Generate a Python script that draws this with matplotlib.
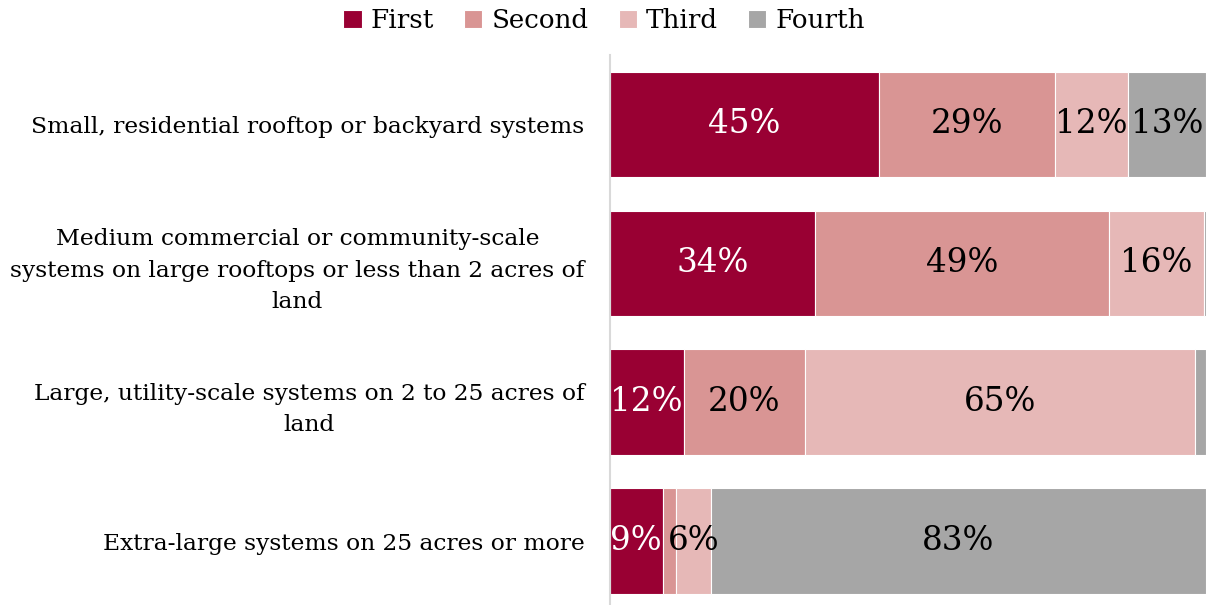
import matplotlib.pyplot as plt
import numpy as np

plt.rcParams['font.family'] = ['DejaVu Serif']

categories = [
    'Small, residential rooftop or backyard systems',
    'Medium commercial or community-scale\nsystems on large rooftops or less than 2 acres of\nland',
    'Large, utility-scale systems on 2 to 25 acres of\nland',
    'Extra-large systems on 25 acres or more',
]
series = ['First', 'Second', 'Third', 'Fourth']
first = [45.2, 34.4, 12.4, 8.9]
second = [29.4, 49.4, 20.4, 2.2]
third = [12.4, 15.8, 65.4, 5.9]
fourth = [13.0, 0.4, 1.8, 83.0]

colors = ['#990033', '#D99594', '#E6B8B7', '#A6A6A6']
text_colors = ['white', 'black', 'black', 'black']

fig = plt.figure(figsize=(12.06, 6.05), dpi=100)
ax = fig.add_axes([0.5055, 0.0, 0.4945, 0.909])

y = np.arange(len(categories))
left = np.zeros(len(categories))
for name, vals, c, tc in zip(series, [first, second, third, fourth], colors, text_colors):
    vals = np.array(vals)
    ax.barh(y, vals, left=left, height=0.76, color=c, edgecolor='white',
            linewidth=0.8, label=name)
    for yi, l, v in zip(y, left, vals):
        if v >= 3:
            ax.text(l + v / 2, yi, f'{v:.0f}%', ha='center', va='center',
                    color=tc, fontsize=23.5)
    left += vals

ax.set_xlim(0, 100)
ax.set_ylim(3.46, -0.5)
ax.set_yticks(y)
ax.set_yticklabels(categories, fontsize=16.8, multialignment='center',
                   linespacing=1.55)
ax.tick_params(axis='y', length=0, pad=18)
ax.set_xticks([])
for s in ['top', 'right', 'bottom']:
    ax.spines[s].set_visible(False)
ax.spines['left'].set_color('#D9D9D9')
ax.spines['left'].set_linewidth(1.5)

fig.legend(loc='upper center', bbox_to_anchor=(0.501, 1.025), ncol=4, frameon=False,
           fontsize=18.8, handlelength=0.7, handleheight=0.7, handletextpad=0.35,
           columnspacing=1.15)

plt.savefig('out.png', dpi=100)
